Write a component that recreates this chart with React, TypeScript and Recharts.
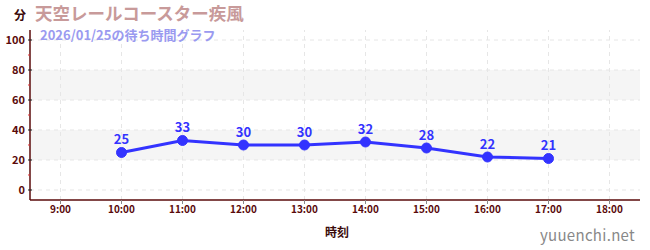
import {
  LineChart,
  Line,
  XAxis,
  YAxis,
  ReferenceArea,
  ReferenceLine,
  LabelList,
} from "recharts";

const hours = [10, 11, 12, 13, 14, 15, 16, 17];
const waits = [25, 33, 30, 30, 32, 28, 22, 21];
const xTicks = [9, 10, 11, 12, 13, 14, 15, 16, 17, 18];
const yTicks = [0, 10, 20, 30, 40, 50, 60, 70, 80, 90, 100];
const yGrid = [0, 20, 40, 60, 80, 100];
const bands: [number, number][] = [
  [20, 40],
  [60, 80],
];

const data = hours.map((h, i) => ({ hour: h, wait: waits[i] }));

const FONT = "'Noto Sans CJK JP', 'Noto Sans', sans-serif";
const AXIS = "#5a0a0a";
const LINE = "#3333ff";

function YTick(props: any) {
  const { x, y, payload } = props;
  const v = payload.value as number;
  const major = v % 20 === 0;
  // x is label anchor; axis sits 8px to the right
  return (
    <g>
      <line
        x1={x + 6}
        x2={major ? x + 10 : x + 8}
        y1={y}
        y2={y}
        stroke={major ? "#222" : "#e03030"}
        strokeWidth={1}
      />
      {major && (
        <text
          x={x + 3}
          y={y}
          dy={4}
          textAnchor="end"
          fill={AXIS}
          fontSize={11}
          fontWeight={600}
          fontFamily={FONT}
        >
          {v}
        </text>
      )}
    </g>
  );
}

export default function App() {
  return (
    <div
      style={{
        position: "absolute",
        left: 0,
        top: 0,
        width: 650,
        height: 250,
        background: "#fff",
        fontFamily: FONT,
      }}
    >
      <LineChart
        width={650}
        height={250}
        data={data}
        margin={{ top: 30, right: 10, left: 0, bottom: 20 }}
      >
        {bands.map(([a, b]) => (
          <ReferenceArea
            key={a}
            y1={a}
            y2={b}
            fill="#f2f2f2"
            fillOpacity={0.8}
            stroke="none"
          />
        ))}
        {yGrid.map((v) => (
          <ReferenceLine
            key={"h" + v}
            y={v}
            stroke="#e6e6e6"
            strokeDasharray="4 4"
          />
        ))}
        {xTicks.map((v) => (
          <ReferenceLine
            key={"v" + v}
            x={v}
            stroke="#e6e6e6"
            strokeDasharray="4 4"
          />
        ))}
        <XAxis
          dataKey="hour"
          type="number"
          domain={[8.5, 18.5]}
          ticks={xTicks}
          height={30}
          tickFormatter={(v: number) => `${v}:00`}
          axisLine={{ stroke: AXIS, strokeWidth: 1.5 }}
          tickLine={{ stroke: "#888" }}
          tickSize={4}
          tick={{ fill: AXIS, fontSize: 10, fontWeight: 600, fontFamily: FONT }}
          interval={0}
        />
        <YAxis
          type="number"
          domain={[-6.67, 106.67]}
          ticks={yTicks}
          width={30}
          interval={0}
          axisLine={{ stroke: AXIS, strokeWidth: 1.5 }}
          tickLine={false}
          tick={<YTick />}
          allowDataOverflow
        />
        <Line
          dataKey="wait"
          stroke={LINE}
          strokeWidth={3}
          dot={{ r: 5, fill: LINE, stroke: LINE, strokeWidth: 1 }}
          activeDot={false}
          isAnimationActive={false}
        >
          <LabelList
            dataKey="wait"
            position="top"
            offset={8}
            fill={LINE}
            fontSize={13}
            fontWeight={700}
            fontFamily={FONT}
          />
        </Line>
      </LineChart>
      <div
        style={{
          position: "absolute",
          left: 14,
          top: 8,
          fontSize: 12,
          fontWeight: 700,
          color: "#3a0a0a",
          lineHeight: "14px",
        }}
      >
        分
      </div>
      <div
        style={{
          position: "absolute",
          left: 35,
          top: 4,
          fontSize: 17.5,
          fontWeight: 700,
          color: "#c89a9a",
          lineHeight: "17.5px",
        }}
      >
        天空レールコースター疾風
      </div>
      <div
        style={{
          position: "absolute",
          left: 40,
          top: 28,
          fontSize: 13,
          fontWeight: 700,
          color: "#9a9af0",
          lineHeight: "14px",
        }}
      >
        2026/01/25の待ち時間グラフ
      </div>
      <div
        style={{
          position: "absolute",
          left: 325,
          top: 223,
          fontSize: 12,
          fontWeight: 700,
          color: "#3a0a0a",
        }}
      >
        時刻
      </div>
      <div
        style={{
          position: "absolute",
          right: 15,
          top: 224,
          fontSize: 15,
          color: "#888",
          letterSpacing: 0.3,
        }}
      >
        yuuenchi.net
      </div>
    </div>
  );
}
